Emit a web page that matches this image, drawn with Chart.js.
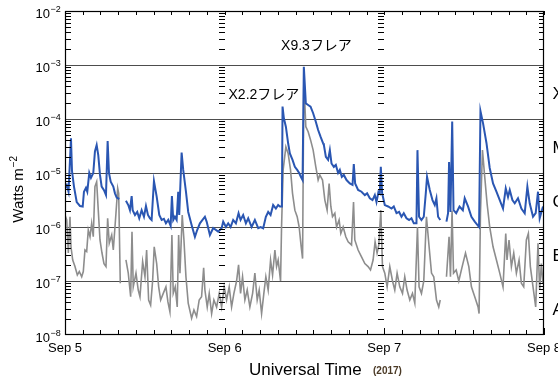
<!DOCTYPE html>
<html>
<head>
<meta charset="utf-8">
<script src="https://cdn.jsdelivr.net/npm/chart.js@4.4.1/dist/chart.umd.min.js"></script>
<style>
  html, body { margin: 0; padding: 0; background: #fff; }
  #wrap { width: 558px; height: 378px; }
</style>
</head>
<body>
<div id="wrap"><canvas id="chartXrs" width="558" height="378"></canvas></div>
<script>
// hours after 2017-09-05 00:00 UT
const blueHours = [
  0, 0.26, 0.53, 0.9, 1.05, 1.35, 1.76, 2.25, 2.66, 2.85,
  3.15, 3.35, 3.65, 3.9, 4.25, 4.5, 4.76, 5.0, 5.26, 5.51,
  5.86, 6.16, 6.41, 6.61, 6.87, 7.26, 7.51, 7.77, 8.16, 8.6,
  9.16, 9.51, 9.76, 10.02, 10.17, 10.52, 10.86, 11.16, 11.52, 11.87,
  12.17, 12.47, 12.77, 13.02, 13.37, 13.78, 14.17, 14.53, 14.87, 15.17,
  15.52, 15.88, 16.07, 16.27, 16.52, 16.78, 17.02, 17.17, 17.53, 17.77,
  18.18, 18.52, 19.03, 19.53, 19.87, 20.28, 21.03, 21.29, 21.78, 22.28,
  23.03, 23.54, 23.78, 24.19, 24.53, 24.89, 25.28, 25.69, 26.09, 26.39,
  26.78, 27.19, 27.54, 28.05, 28.54, 29.04, 29.4, 29.79, 30.19, 30.54,
  30.9, 31.29, 31.7, 32.04, 32.3, 32.6, 32.7, 32.9, 33.2, 33.54,
  33.8, 34.2, 34.55, 34.9, 35.2, 35.45, 35.71, 35.9, 36.2, 36.55,
  36.91, 37.3, 37.7, 38.05, 38.41, 38.8, 38.91, 39.21, 39.55, 39.81,
  40.06, 40.41, 40.71, 41.05, 41.31, 41.61, 41.91, 42.32, 42.81, 43.22,
  43.41, 43.61, 44.06, 44.57, 45.07, 45.41, 45.82, 46.22, 46.57, 46.82,
  47.12, 47.32, 47.47, 47.67, 48.07, 48.57, 49.08, 49.42, 49.83, 50.22,
  50.58, 50.92, 51.33, 51.72, 52.08, 52.43, 52.83, 52.98, 53.22, 53.58,
  53.93, 54.23, 54.42, 54.83, 55.24, 55.58, 55.83, 56.08, 56.41, 57.0,
  57.34, 57.58, 57.73, 57.94, 58.2, 58.4, 58.8, 59.3, 59.8, 60.08,
  60.58, 61.09, 61.59, 62.24, 62.45, 62.84, 63.35, 63.84, 64.34, 64.85,
  65.35, 65.84, 66.25, 66.59, 66.85, 67.25, 67.6, 68.09, 68.6, 69.1,
  69.5, 69.85, 70.35, 70.75, 71.1, 71.35, 71.85
];
// 1-8 Å flux, W m^-2 (null = data gap)
const blueFlux = [
  5.3e-6, 6.0e-6, 4.5e-6, 4.4e-5, 1.1e-5, 5.6e-6, 2.9e-6, 2.45e-6, 2.4e-6, 4.5e-6,
  5.3e-6, 4.5e-6, 1.0e-5, 8.1e-6, 1.0e-5, 2.5e-5, 3.3e-5, 2.15e-5, 9.2e-6, 5.6e-6,
  4.8e-6, 3.9e-6, 3.9e-5, 1.0e-5, 6.9e-6, 5.6e-6, 4.2e-6, 3.5e-6, 3.3e-6, null,
  3.05e-6, 2.55e-6, 2.05e-6, 3.75e-6, 2.05e-6, 1.67e-6, 1.9e-6, 1.45e-6, 2.05e-6, 1.55e-6,
  2.45e-6, 1.67e-6, 1.45e-6, 1.35e-6, 7.1e-6, 3.65e-6, 1.67e-6, 1.35e-6, 1.41e-6, 1.17e-6,
  1.35e-6, 1.05e-6, 3.75e-6, 1.35e-6, 1.55e-6, 1.35e-6, 4.5e-6, 1.67e-6, 2.4e-5, 1.14e-5,
  4.5e-6, 1.9e-6, 1.09e-6, 6.6e-7, 8.8e-7, 1.17e-6, 1.55e-6, 1.26e-6, 7.1e-7, 9.6e-7,
  8.2e-7, 9.5e-7, 1.26e-6, 1.0e-6, 1.17e-6, 1.0e-6, 1.35e-6, 1.17e-6, 1.8e-6, 1.35e-6,
  1.67e-6, 1.17e-6, 1.45e-6, 1.0e-6, 1.35e-6, 9.5e-7, 1.0e-6, 9.5e-7, 1.55e-6, 1.9e-6,
  1.67e-6, 2.55e-6, 2.2e-6, 2.55e-6, 2.4e-6, 2.4e-6, 1.7e-4, 1.03e-4, 7.2e-5, 3.55e-5,
  2.3e-5, 1.75e-5, 1.3e-5, 1.14e-5, 1.0e-5, 8.5e-6, 7.4e-6, 9.3e-4, 1.95e-4, 1.82e-4,
  1.7e-4, 1.28e-4, 8.9e-5, 6.25e-5, 4.7e-5, 3.55e-5, 3.3e-5, 2.0e-5, 1.75e-5, 2.65e-5,
  1.5e-5, 1.3e-5, 1.41e-5, 1.0e-5, 1.14e-5, 8.5e-6, 9.2e-6, 7.4e-6, 6.4e-6, 6.0e-6,
  1.47e-5, 6.4e-6, 4.85e-6, 4.5e-6, 3.9e-6, 4.2e-6, 3.4e-6, 3.15e-6, 3.9e-6, 2.9e-6,
  4.5e-6, 4.2e-6, 1.3e-5, 4.2e-6, 2.55e-6, 2.4e-6, 2.2e-6, 2.4e-6, 1.8e-6, 1.9e-6,
  1.55e-6, 1.8e-6, 1.45e-6, 1.35e-6, 1.45e-6, 1.17e-6, 1.17e-6, 2.65e-5, 1.55e-6, 1.35e-6,
  1.55e-6, 4.2e-6, 8.5e-6, 4.85e-6, 3.15e-6, 2.55e-6, 3.4e-6, 1.55e-6, 1.35e-6, null,
  1.26e-6, 1.8e-6, 1.6e-5, 1.9e-6, 9.0e-5, 2.05e-6, 1.8e-6, 2.4e-6, 2.05e-6, 3.4e-6,
  2.4e-6, 1.55e-6, 1.26e-6, 1.0e-6, 1.4e-4, 8.3e-5, 3.6e-5, 1.24e-5, 6.4e-6, 4.5e-6,
  3.15e-6, 2.2e-6, 5.2e-6, 3.6e-6, 4.85e-6, 3.15e-6, 2.75e-6, 3.4e-6, 2.2e-6, 1.8e-6,
  5.6e-6, 2.75e-6, 1.55e-6, 1.8e-6, 4.5e-6, 1.45e-6, 2.4e-6
];

const grayHours = [
  0, 0.26, 0.5, 0.75, 0.9, 1.16, 1.5, 1.85, 2.15, 2.51,
  2.75, 3.0, 3.26, 3.5, 3.76, 4.01, 4.25, 4.5, 4.76, 5.0,
  5.26, 5.56, 5.86, 6.16, 6.41, 6.65, 7.02, 7.26, 7.66, 7.92,
  8.07, 8.31, 8.7, 9.16, 9.51, 9.87, 10.07, 10.26, 10.67, 11.01,
  11.27, 11.67, 12.02, 12.27, 12.57, 12.87, 13.17, 13.41, 13.78, 14.08,
  14.38, 14.77, 15.17, 15.47, 15.77, 16.07, 16.27, 16.57, 16.87, 17.08,
  17.28, 17.62, 17.88, 18.18, 18.52, 19.03, 19.38, 19.78, 20.17, 20.53,
  20.84, 21.03, 21.38, 21.68, 22.04, 22.38, 22.79, 23.18, 23.54, 23.93,
  24.29, 24.68, 25.04, 25.39, 25.79, 26.09, 26.39, 26.69, 27.04, 27.39,
  27.79, 28.2, 28.54, 28.89, 29.19, 29.55, 29.89, 30.19, 30.54, 30.9,
  31.2, 31.55, 31.8, 32.04, 32.4, 32.55, 32.79, 33.2, 33.54, 33.9,
  34.2, 34.55, 34.9, 35.2, 35.5, 35.71, 35.9, 36.2, 36.55, 36.91,
  37.3, 37.7, 38.05, 38.3, 38.71, 39.06, 39.4, 39.7, 39.96, 40.21,
  40.56, 40.82, 41.2, 41.46, 41.81, 42.21, 42.56, 43.07, 43.37, 43.56,
  44.06, 44.57, 45.07, 45.56, 45.92, 46.31, 46.61, 46.91, 47.17, 47.47,
  47.72, 48.07, 48.42, 48.82, 49.23, 49.57, 49.92, 50.32, 50.73, 51.07,
  51.42, 51.83, 52.23, 52.58, 52.98, 53.22, 53.58, 53.93, 54.33, 54.73,
  55.09, 55.43, 55.84, 56.18, 56.4, 57.0, 57.34, 57.73, 57.94, 58.18,
  58.4, 58.8, 59.19, 59.7, 60.2, 60.7, 61.09, 61.59, 62.09, 62.24,
  62.45, 62.75, 63.09, 63.44, 63.84, 64.34, 64.85, 65.35, 65.84, 66.25,
  66.44, 66.74, 67.1, 67.45, 67.85, 68.25, 68.6, 68.95, 69.35, 69.65,
  69.95, 70.35, 70.75, 71.1, 71.35, 71.6, 71.85
];
// 0.5-4 Å flux, W m^-2
const grayFlux = [
  1.67e-6, 1.35e-6, 3.3e-7, 1.55e-6, 4.3e-7, 2.45e-7, 1.85e-7, 1.29e-7, 1.5e-7, 1.2e-7,
  1.5e-7, 3.75e-7, 3.5e-7, 8.8e-7, 6.6e-7, 1.17e-6, 6.6e-7, 5.6e-6, 6.9e-6, 2.05e-6,
  5.75e-7, 3.3e-7, 2.1e-7, 1.85e-7, 1.45e-6, 5.0e-7, 7.1e-7, 3.75e-7, 1.8e-6, 5.2e-6,
  4.2e-6, 9.1e-8, null, 2.45e-7, 1.4e-7, 5.1e-8, 8.2e-7, 7.8e-8, 1.4e-7, 6.8e-8,
  5.1e-8, 2.3e-7, 1.2e-7, 3.75e-7, 4.45e-8, 3.6e-8, 1.0e-7, 4.3e-7, 2.1e-7, 7.8e-8,
  4.45e-8, 5.9e-8, 7.8e-8, 4.1e-8, 2.7e-8, 7.1e-7, 5.9e-8, 7.8e-8, 3.3e-8, 7.1e-7,
  1.4e-7, 1.67e-6, 5.75e-7, 1.2e-7, 3.9e-8, 2.05e-8, 2.9e-8, 2.2e-8, 4.45e-8, 5.1e-8,
  1.75e-7, 6.8e-8, 3.3e-8, 5.9e-8, 2.5e-8, 4.45e-8, 3.3e-8, 5.9e-8, 3.3e-8, 7.8e-8,
  4.45e-8, 7.8e-8, 3.3e-8, 5.9e-8, 1.0e-7, 2.0e-7, 5.9e-8, 1.2e-7, 4.45e-8, 6.8e-8,
  3.3e-8, 5.9e-8, 1.4e-7, 4.45e-8, 6.8e-8, 2.5e-8, 5.9e-8, 1.2e-7, 6.8e-8, 2.45e-7,
  1.29e-7, 3.75e-7, 1.85e-7, 2.45e-7, 1.0e-7, 1.0e-6, 1.14e-5, 3.05e-5, 2.3e-5, 1.14e-5,
  4.2e-6, 2.05e-6, 1.55e-6, 1.0e-6, 4.3e-7, 2.6e-7, 5.3e-4, 7.2e-5, 5.8e-5, 4.1e-5,
  2.65e-5, 1.3e-5, 7.4e-6, 9.2e-6, 7.4e-6, 3.15e-6, 2.05e-6, 6.4e-6, 2.4e-6, 1.55e-6,
  1.8e-6, 1.0e-6, 1.35e-6, 7.6e-7, 1.0e-6, 6.6e-7, 5.3e-7, 4.65e-7, 2.9e-6, 5.75e-7,
  3.75e-7, 2.8e-7, 2.1e-7, 1.85e-7, 1.6e-7, 2.45e-7, 5.3e-7, 3.3e-7, 4.65e-7, 2.05e-6,
  1.85e-7, 1.4e-7, 7.8e-8, 1.85e-7, 1.0e-7, 6.8e-8, 1.4e-7, 7.8e-8, 5.9e-8, 1.2e-7,
  6.8e-8, 4.45e-8, 5.9e-8, 3.9e-8, 1.0e-6, 7.8e-8, 5.9e-8, 1.0e-7, 1.55e-6, 4.3e-7,
  1.4e-7, 1.2e-7, 4.45e-8, 3.3e-8, 4.45e-8, null, 1.2e-7, 6.6e-7, 1.2e-7, 2.0e-6,
  1.4e-7, 1.6e-7, 1.0e-7, 1.85e-7, 3.3e-7, 1.85e-7, 7.8e-8, 5.1e-8, 3.3e-8, 2.5e-8,
  1.8e-6, 2.65e-5, 8.5e-6, 2.75e-6, 1.0e-6, 4.3e-7, 2.45e-7, 1.4e-7, 7.8e-8, 7.6e-7,
  2.45e-7, 5.75e-7, 1.85e-7, 3.3e-7, 1.4e-7, 2.45e-7, 9.1e-8, 7.8e-8, 5.75e-7, 7.6e-7,
  1.85e-7, 7.8e-8, 3.3e-8, 5.0e-7, 6.8e-8, 2.1e-7, 9.1e-8
];

const dayLabels = ["Sep 5", "Sep 6", "Sep 7", "Sep 8"];
const decadeExponents = [-2, -3, -4, -5, -6, -7, -8];
const gridExponents = [-3, -4, -5, -6, -7];
const classLetters = ["X", "M", "C", "B", "A"];
const classFloors = [1e-4, 1e-5, 1e-6, 1e-7, 1e-8];
const columnHours = [23.55, 47.57];
const flareNotes = [
  { text: "X9.3フレア", hour: 37.8, flux: 2.25e-3 },
  { text: "X2.2フレア", hour: 29.9, flux: 2.8e-4 },
];
const tickStep = 24 / 9;

const FONT = "'Liberation Sans', Arial, Helvetica, 'Noto Sans CJK JP', sans-serif";

function hLine(ctx, x1, x2, yy) {
  ctx.beginPath();
  ctx.moveTo(x1, yy);
  ctx.lineTo(x2, yy);
  ctx.stroke();
}
function vLine(ctx, xx, y1, y2) {
  ctx.beginPath();
  ctx.moveTo(xx, y1);
  ctx.lineTo(xx, y2);
  ctx.stroke();
}

const goesFrame = {
  id: "goesFrame",
  beforeDatasetsDraw(chart) {
    const { ctx, chartArea: area, scales: { y } } = chart;
    ctx.save();
    ctx.strokeStyle = "#4d4d4d";
    ctx.lineWidth = 1;
    gridExponents.forEach((e) => {
      const py = Math.round(y.getPixelForValue(10 ** e)) + 0.5;
      hLine(ctx, area.left, area.right, py);
    });
    ctx.restore();
  },
  afterDatasetsDraw(chart) {
    const { ctx, chartArea: area, scales: { x, y } } = chart;
    ctx.save();
    ctx.strokeStyle = "#000";
    ctx.fillStyle = "#000";
    ctx.lineWidth = 1;

    // log minor ticks: both sides + the two dashed columns
    for (let e = -8; e < -2; e++) {
      for (let m = 2; m <= 9; m++) {
        const py = Math.round(y.getPixelForValue(m * 10 ** e)) + 0.5;
        hLine(ctx, area.left, area.left + 6, py);
        hLine(ctx, area.right - 5, area.right, py);
        columnHours.forEach((h) => {
          const px = Math.round(x.getPixelForValue(h));
          hLine(ctx, px - 3, px + 3, py);
        });
      }
    }

    // time ticks top and bottom
    for (let i = 0; i <= 27; i++) {
      const px = Math.round(x.getPixelForValue(i * tickStep)) + 0.5;
      const len = i % 9 === 0 ? 7 : 5;
      vLine(ctx, px, area.bottom, area.bottom - len);
      vLine(ctx, px, area.top, area.top + 4);
    }

    // frame
    ctx.lineWidth = 1.2;
    ctx.strokeRect(area.left + 0.5, area.top + 0.5, area.right - area.left - 1, area.bottom - area.top - 1);

    // y tick labels 10^n
    decadeExponents.forEach((e) => {
      const py = y.getPixelForValue(10 ** e);
      ctx.font = `13px ${FONT}`;
      ctx.textAlign = "right";
      ctx.textBaseline = "middle";
      ctx.fillText("10", 50, py + 3);
      ctx.font = `9px ${FONT}`;
      ctx.textAlign = "left";
      ctx.textBaseline = "alphabetic";
      ctx.fillText("\u2212" + -e, 50.5, py + 1);
    });

    // day labels
    ctx.font = `13px ${FONT}`;
    ctx.textAlign = "center";
    ctx.textBaseline = "top";
    dayLabels.forEach((d, i) => {
      ctx.fillText(d, x.getPixelForValue(i * 24), 342);
    });

    // flare class letters on the right
    ctx.font = `17px ${FONT}`;
    ctx.textAlign = "left";
    ctx.textBaseline = "middle";
    classLetters.forEach((c, i) => {
      const py = y.getPixelForValue(classFloors[i] * Math.sqrt(10));
      ctx.fillText(c, area.right + 8.5, py + 2);
    });

    // flare notes
    ctx.font = `14px ${FONT}`;
    ctx.textAlign = "center";
    flareNotes.forEach((n) => {
      ctx.fillText(n.text, x.getPixelForValue(n.hour), y.getPixelForValue(n.flux));
    });

    // x title
    ctx.textAlign = "left";
    ctx.textBaseline = "alphabetic";
    ctx.font = `17px ${FONT}`;
    ctx.fillText("Universal Time", 249, 375);
    ctx.font = `bold 10px ${FONT}`;
    ctx.fillStyle = "#4b3a26";
    ctx.fillText("(2017)", 373, 374);

    // y title
    ctx.fillStyle = "#000";
    ctx.translate(23, 190);
    ctx.rotate(-Math.PI / 2);
    ctx.font = `15px ${FONT}`;
    ctx.textAlign = "left";
    const w = ctx.measureText("Watts m").width;
    const total = w + 11;
    ctx.fillText("Watts m", -total / 2, 0);
    ctx.font = `10px ${FONT}`;
    ctx.fillText("\u22122", -total / 2 + w + 1, -6);
    ctx.restore();
  },
};

const toPoints = (hours, flux) => hours.map((h, i) => ({ x: h, y: flux[i] }));

new Chart(document.getElementById("chartXrs"), {
  type: "line",
  data: {
    datasets: [
      {
        label: "1-8 Å",
        data: toPoints(blueHours, blueFlux),
        borderColor: "#2a56b2",
        borderWidth: 2,
        pointRadius: 0,
        tension: 0,
        spanGaps: false,
        order: 0,
      },
      {
        label: "0.5-4 Å",
        data: toPoints(grayHours, grayFlux),
        borderColor: "#8d8d8d",
        borderWidth: 1.6,
        pointRadius: 0,
        tension: 0,
        spanGaps: false,
        order: 1,
      },
    ],
  },
  options: {
    responsive: false,
    animation: false,
    layout: { padding: { left: 65, right: 14, top: 11, bottom: 43 } },
    plugins: {
      legend: { display: false },
      tooltip: { enabled: false },
    },
    scales: {
      x: { type: "linear", min: 0, max: 72, display: false },
      y: { type: "logarithmic", min: 1e-8, max: 1e-2, display: false },
    },
  },
  plugins: [goesFrame],
});
</script>
</body>
</html>
